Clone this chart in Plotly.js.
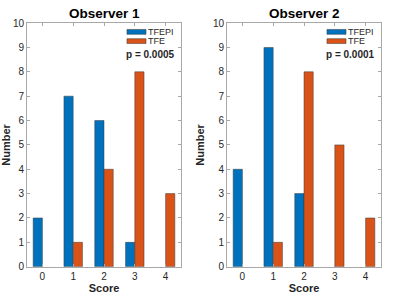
<!DOCTYPE html>
<html><head><meta charset="utf-8">
<script src="https://cdn.plot.ly/plotly-3.0.1.min.js"></script>
<style>html,body{margin:0;padding:0;background:#fff}#chart{width:400px;height:300px}</style>
</head><body><div id="chart"></div>
<script>
const scores = [0, 1, 2, 3, 4];
const seriesNames = ['TFEPI', 'TFE'];
const obs1TFEPI = [2, 7, 6, 1, 0];
const obs1TFE = [0, 1, 4, 8, 3];
const obs2TFEPI = [4, 9, 3, 0, 0];
const obs2TFE = [0, 1, 8, 5, 2];
const panelTitles = ['Observer 1', 'Observer 2'];
const pValues = ['p = 0.0005', 'p = 0.0001'];
const yTicks = [0,1,2,3,4,5,6,7,8,9,10];

const colors = ['#0072BD', '#D95319'];
const font = 'Liberation Sans, Arial, sans-serif';

function bar(x, y, name, color, xa, ya) {
  return {type: 'bar', x: x, y: y, name: name, xaxis: xa, yaxis: ya,
    marker: {color: color, line: {color: '#3a3a3a', width: y.map(function (v) { return v === 0 ? 0 : 0.5; })}},
    showlegend: false, hoverinfo: 'none'};
}
const data = [
  bar(scores, obs1TFEPI, seriesNames[0], colors[0], 'x', 'y'),
  bar(scores, obs1TFE, seriesNames[1], colors[1], 'x', 'y'),
  bar(scores, obs2TFEPI, seriesNames[0], colors[0], 'x2', 'y2'),
  bar(scores, obs2TFE, seriesNames[1], colors[1], 'x2', 'y2')
];

function xax(domain, anchor) {
  return {domain: domain, anchor: anchor, range: [-0.5, 4.5], tickvals: scores,
    ticktext: scores.map(String), ticks: 'inside', ticklen: 3, tickcolor: '#a8a8a8',
    showline: true, linecolor: '#a8a8a8', linewidth: 1, mirror: 'ticks',
    showgrid: false, zeroline: false, fixedrange: true,
    tickfont: {family: font, size: 10, color: '#262626'},
    title: {text: '<b>Score</b>', font: {family: font, size: 11, color: '#262626'}, standoff: 1}};
}
function yax(anchor) {
  return {domain: [0.111, 0.923], anchor: anchor, range: [0, 10], tickvals: yTicks,
    ticks: 'inside', ticklen: 3, tickcolor: '#a8a8a8',
    showline: true, linecolor: '#a8a8a8', linewidth: 1, mirror: 'ticks',
    showgrid: false, zeroline: false, fixedrange: true,
    tickfont: {family: font, size: 10, color: '#262626'},
    title: {text: '<b>Number</b>', font: {family: font, size: 11, color: '#262626'}, standoff: 6}};
}

const shapes = [];
const annotations = [];
[['x', 'y'], ['x2', 'y2']].forEach(function (ax, i) {
  const xr = ax[0] + ' domain', yr = ax[1] + ' domain';
  shapes.push({type: 'rect', xref: xr, yref: yr, x0: 0.649, x1: 0.773, y0: 0.954, y1: 0.974,
    fillcolor: colors[0], line: {color: '#3a3a3a', width: 0.5}});
  shapes.push({type: 'rect', xref: xr, yref: yr, x0: 0.649, x1: 0.773, y0: 0.916, y1: 0.936,
    fillcolor: colors[1], line: {color: '#3a3a3a', width: 0.5}});
  annotations.push({xref: xr, yref: yr, x: 0.770, y: 0.964, xanchor: 'left', yanchor: 'middle',
    text: seriesNames[0], showarrow: false, font: {family: font, size: 9, color: '#262626'}});
  annotations.push({xref: xr, yref: yr, x: 0.770, y: 0.926, xanchor: 'left', yanchor: 'middle',
    text: seriesNames[1], showarrow: false, font: {family: font, size: 9, color: '#262626'}});
  annotations.push({xref: xr, yref: yr, x: 0.80, y: 0.873, xanchor: 'center', yanchor: 'middle',
    text: '<b>' + pValues[i] + '</b>', showarrow: false, font: {family: font, size: 10, color: '#262626'}});
  annotations.push({xref: xr, yref: 'paper', x: 0.5, y: 0.955, xanchor: 'center', yanchor: 'middle',
    text: '<b>' + panelTitles[i] + '</b>', showarrow: false, font: {family: font, size: 13.5, color: '#000'}});
});

const layout = {
  width: 400, height: 300, margin: {l: 0, r: 0, t: 0, b: 0},
  paper_bgcolor: '#fff', plot_bgcolor: '#fff',
  barmode: 'group', bargap: 0.4, bargroupgap: 0,
  xaxis: xax([0.0675, 0.4525], 'y'), yaxis: yax('x'),
  xaxis2: xax([0.5675, 0.9525], 'y2'), yaxis2: yax('x2'),
  shapes: shapes, annotations: annotations, showlegend: false
};
Plotly.newPlot('chart', data, layout, {staticPlot: true, displayModeBar: false});
</script></body></html>
